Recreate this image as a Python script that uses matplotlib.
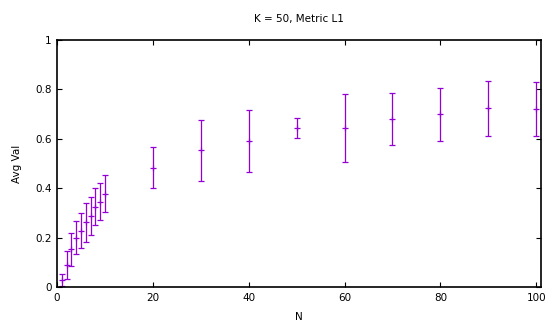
import numpy as np
import matplotlib
matplotlib.use("Agg")
import matplotlib.pyplot as plt

# averages over K = 50 runs, L1 metric
n_vals = [1, 2, 3, 4, 5, 6, 7, 8, 9, 10, 20, 30, 40, 50, 60, 70, 80, 90, 100]
avg_val = [0.028, 0.088, 0.153, 0.200, 0.228, 0.262, 0.287, 0.325, 0.345, 0.378,
           0.483, 0.553, 0.591, 0.644, 0.644, 0.679, 0.700, 0.723, 0.721]
err_val = [0.024, 0.056, 0.066, 0.067, 0.072, 0.078, 0.076, 0.075, 0.075, 0.076,
           0.084, 0.124, 0.127, 0.042, 0.138, 0.105, 0.107, 0.111, 0.109]

plt.rcParams['font.family'] = ['DejaVu Sans']
fig = plt.figure(figsize=(5.47, 3.27), dpi=100)
ax = fig.add_axes([0.1042, 0.1223, 0.8848, 0.7554])

ax.errorbar(n_vals, avg_val, yerr=err_val, fmt="+", color="#9400D3",
            ecolor="#9400D3", elinewidth=0.9, capsize=2.4, capthick=0.9,
            markersize=4, markeredgewidth=0.9)

ax.set_xlim(0, 101)
ax.set_ylim(0, 1)
ax.set_xticks([0, 20, 40, 60, 80, 100])
ax.set_yticks([0, 0.2, 0.4, 0.6, 0.8, 1])
ax.set_yticklabels(["0", "0.2", "0.4", "0.6", "0.8", "1"])
ax.tick_params(direction="in", top=True, right=True, length=3.5, width=0.8,
               labelsize=7.5, pad=4)
for side in ax.spines.values():
    side.set_linewidth(1.2)

ax.set_title("K = 50, Metric L1", fontsize=7.5, pad=13)
ax.set_xlabel("N", fontsize=7.5, labelpad=7)
ax.set_ylabel("Avg Val", fontsize=7.5, labelpad=9)

fig.savefig("out.png", dpi=100)
